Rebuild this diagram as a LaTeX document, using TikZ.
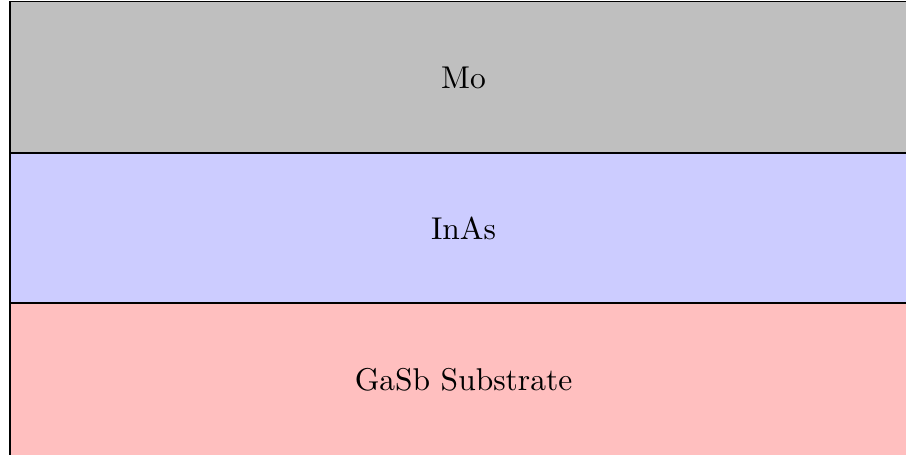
\documentclass[tikz,border=0pt]{standalone}
\begin{document}
\begin{tikzpicture}[x=0.3175pt,y=-0.3175pt,
  layer/.style={draw=black,line width=0.4pt},
  lbl/.style={font=\normalsize}]
\useasboundingbox (0,0) rectangle (906,454);
\clip (0,0) rectangle (906,454);
% layer stack
\path[layer,fill=gray!50] (10,1.5) rectangle (917,153);
\path[layer,fill=blue!20] (10,153) rectangle (917,303);
\path[layer,fill=red!25]  (10,303) rectangle (917,456);
% labels
\node[lbl] (mo)   at (463.5,78)  {Mo};
\node[lbl] (inas) at (463.5,228) {InAs};
\node[lbl] (gasb) at (463.5,380) {GaSb Substrate};
\end{tikzpicture}
\end{document}
